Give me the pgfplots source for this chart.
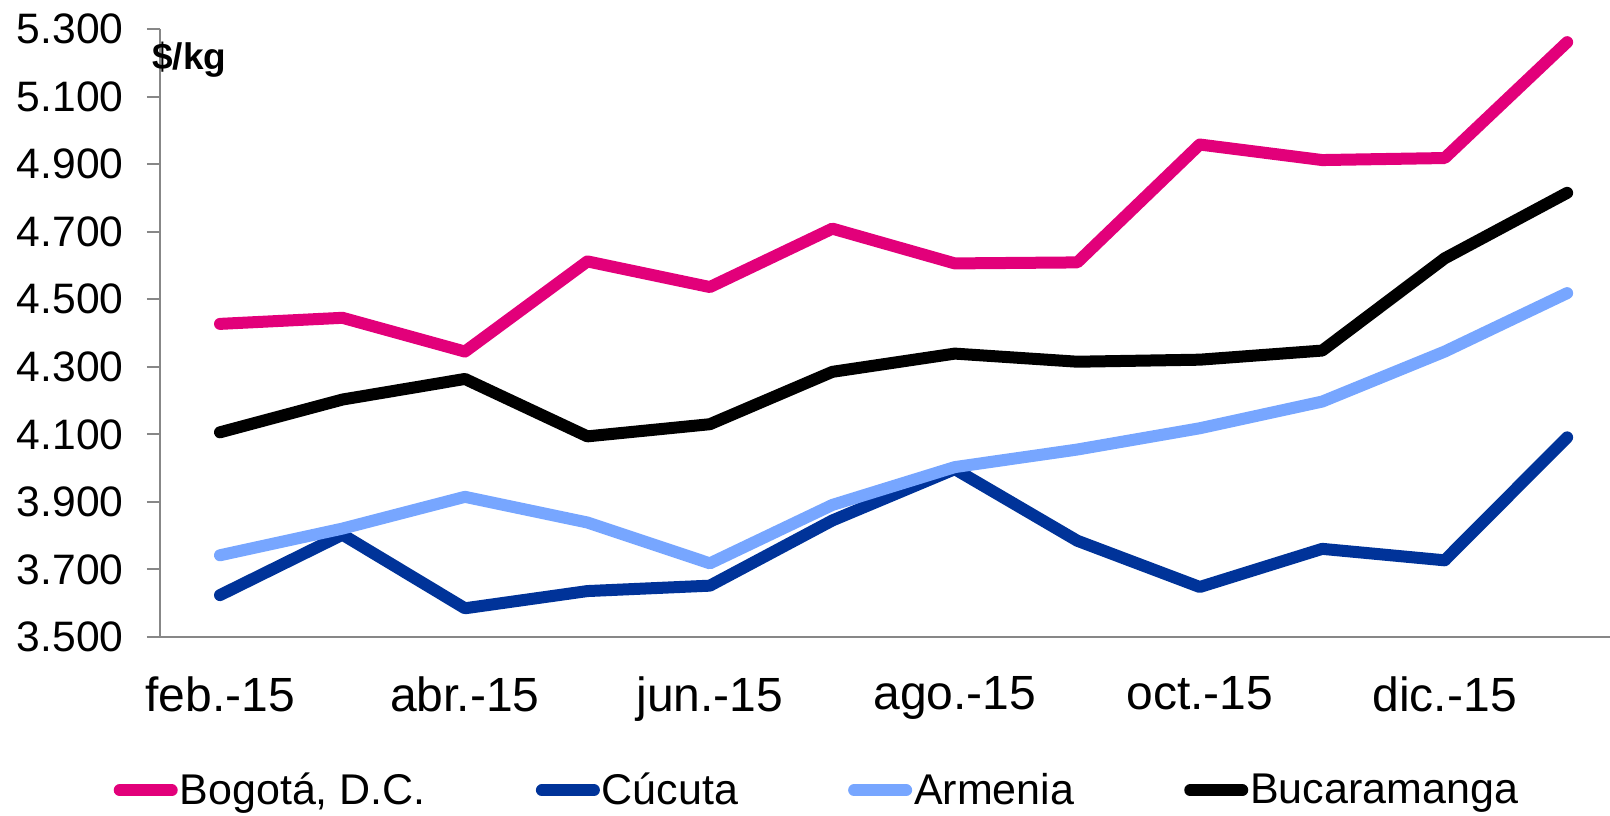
\documentclass[border=0pt]{standalone}
\usepackage{fontspec}
\setmainfont{Liberation Sans}
\usepackage{pgfplots}
\pgfplotsset{compat=1.18}
\definecolor{cBog}{RGB}{226,0,122}
\definecolor{cCuc}{RGB}{0,51,153}
\definecolor{cArm}{RGB}{119,166,255}
\definecolor{cAxis}{RGB}{135,135,135}
\begin{document}
\begin{tikzpicture}
\begin{axis}[
  name=ax,
  scale only axis,
  width=725pt, height=304pt,
  xmin=-0.49, xmax=11.35,
  ymin=3500, ymax=5300,
  ytick={3500,3700,...,5300},
  xtick={0,2,4,6,8,10},
  xticklabels={feb.-15,abr.-15,jun.-15,ago.-15,oct.-15,dic.-15},
  axis x line*=bottom, axis y line*=left,
  axis line style={cAxis, line width=1pt},
  tick align=outside,
  major tick length=6.5pt,
  ytick style={cAxis, line width=1pt},
  xtick style={draw=none},
  /pgf/number format/.cd, fixed, precision=0, 1000 sep={.}, assume math mode=true,
  /pgfplots/.cd,
  yticklabel style={font=\fontsize{21.3}{22}\selectfont, inner sep=0pt, xshift=-11.6pt},
  xticklabel style={font=\fontsize{24}{24}\selectfont, inner sep=0pt, yshift=-13pt},
  clip=false,
  legend columns=4,
  legend style={draw=none, fill=none, at={(0.453,-0.252)}, anchor=center,
    font=\fontsize{21.5}{22}\selectfont, inner sep=0pt,
    /tikz/every even column/.append style={column sep=54pt},
    nodes={inner sep=1pt}},
  legend image code/.code={\draw[#1, line width=6pt, line cap=round] (3pt,0pt) -- (29pt,0pt);},
  every axis plot/.append style={line width=6pt, line cap=round, line join=round, mark=none},
]
\addplot[cBog] coordinates {(0,4427) (1,4445) (2,4345) (3,4612) (4,4536) (5,4709) (6,4606) (7,4609) (8,4958) (9,4912) (10,4918) (11,5261)};
\addlegendentry{Bogotá, D.C.}
\addplot[cCuc] coordinates {(0,3624) (1,3803) (2,3585) (3,3636) (4,3652) (5,3845) (6,3997) (7,3785) (8,3648) (9,3761) (10,3727) (11,4091)};
\addlegendentry{Cúcuta}
\addplot[cArm] coordinates {(0,3742) (1,3821) (2,3915) (3,3839) (4,3718) (5,3891) (6,4003) (7,4055) (8,4118) (9,4197) (10,4345) (11,4518)};
\addlegendentry{Armenia}
\addplot[black] coordinates {(0,4106) (1,4203) (2,4264) (3,4094) (4,4130) (5,4285) (6,4339) (7,4315) (8,4321) (9,4348) (10,4621) (11,4815)};
\addlegendentry{Bucaramanga}
\node[anchor=base west, inner sep=0pt, font=\bfseries\fontsize{18.5}{18.5}\selectfont, xshift=-4pt] at (rel axis cs:0,0.933) {\$/kg};
\end{axis}
\pgfresetboundingbox
\path[use as bounding box] ([xshift=-80pt,yshift=-89pt]ax.south west) rectangle ([xshift=725pt,yshift=318.5pt]ax.south west);
\end{tikzpicture}
\end{document}
